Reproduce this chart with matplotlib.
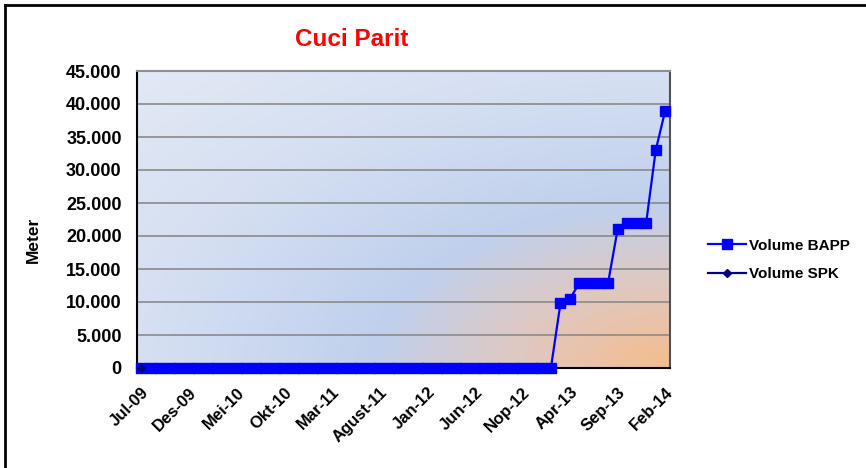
import numpy as np
import matplotlib
matplotlib.use("Agg")
import matplotlib.pyplot as plt
from matplotlib.lines import Line2D

plt.rcParams['font.family'] = ['Liberation Sans', 'DejaVu Sans']

# ---- data ----
month_labels = ["Jul-09", "Des-09", "Mei-10", "Okt-10", "Mar-11", "Agust-11",
                "Jan-12", "Jun-12", "Nop-12", "Apr-13", "Sep-13", "Feb-14"]
n_months = 56  # Jul-09 .. Feb-14 monthly
bapp_values = [0] * 44 + [9800, 10500, 12900, 12900, 12900, 12900,
                          21000, 22000, 22000, 22000, 33000, 39000]
spk_values = [0] + [np.nan] * 55
y_ticks = [0, 5000, 10000, 15000, 20000, 25000, 30000, 35000, 40000, 45000]

x = np.arange(n_months)

fig = plt.figure(figsize=(8.66, 4.68), dpi=100)
ax = fig.add_axes([137/866, 1-368/468, 533/866, 297/468])

# radial gradient background from bottom-right corner
H, W = 297, 533
yy, xx = np.mgrid[0:1:H*1j, 0:1:W*1j]  # yy=0 top
d = np.sqrt((1 - xx) ** 2 + (1 - yy) ** 2)
stops = [0.0, 0.3, 0.55, 1.0, 1.45]
cols = np.array([[245, 188, 140],
                 [222, 201, 196],
                 [192, 208, 236],
                 [214, 224, 242],
                 [228, 234, 245]]) / 255
img = np.stack([np.interp(d, stops, cols[:, c]) for c in range(3)], axis=-1)
ax.imshow(img, extent=[-0.45, 55.5, 0, 45000], aspect='auto', zorder=0,
          interpolation='bilinear')

ax.set_xlim(-0.45, 55.5)
ax.set_ylim(0, 45000)

for yv in y_ticks[1:-1]:
    ax.axhline(yv, color='#8a8a8a', lw=1.2, zorder=1)

ax.plot(x, bapp_values, color='#0000ff', lw=1.6, marker='s', markersize=7.5,
        markeredgecolor='#0000ff', zorder=3, clip_on=False)
ax.plot(x, spk_values, color='#000080', lw=1.6, marker='D', markersize=4.5,
        zorder=4, clip_on=False)

ax.set_yticks(y_ticks)
ax.set_yticklabels([f"{v:,}".replace(",", ".") for v in y_ticks],
                   fontsize=13, fontweight='bold')
ax.set_xticks(x[::5])
ax.set_xticklabels(month_labels, rotation=45, ha='right', va='top',
                   rotation_mode='anchor', fontsize=12, fontweight='bold')
ax.tick_params(axis='x', which='both', length=0, pad=12)
ax.tick_params(axis='y', length=0, pad=11)

ax.spines['left'].set_color('#000000')
ax.spines['bottom'].set_color('#000000')
ax.spines['top'].set_color('#909090')
ax.spines['right'].set_color('#505050')
for sp in ax.spines.values():
    sp.set_linewidth(1.5)

fig.text(352/866, 1-40/468, "Cuci Parit", color='#ff0000', fontsize=17.5,
         fontweight='bold', ha='center', va='center')
fig.text(33/866, 1-240/468, "Meter", rotation=90, fontsize=12.5,
         fontweight='bold', ha='center', va='center')

handles = [Line2D([], [], color='#0000ff', lw=1.6, marker='s', markersize=7),
           Line2D([], [], color='#000080', lw=1.6, marker='D', markersize=4.5)]
leg = fig.legend(handles, ["Volume BAPP", "Volume SPK"], loc='upper left',
                 bbox_to_anchor=(694/866, 1-225/468), frameon=False,
                 prop={'weight': 'bold', 'size': 11}, handlelength=2.5,
                 labelspacing=0.95, handletextpad=0.2)

# outer border (top and left visible)
fig.add_artist(Line2D([5/866, 1], [1-5/468, 1-5/468], color='black', lw=2,
                      transform=fig.transFigure))
fig.add_artist(Line2D([5/866, 5/866], [0, 1-5/468], color='black', lw=2,
                      transform=fig.transFigure))

fig.savefig("out.png", dpi=100)
